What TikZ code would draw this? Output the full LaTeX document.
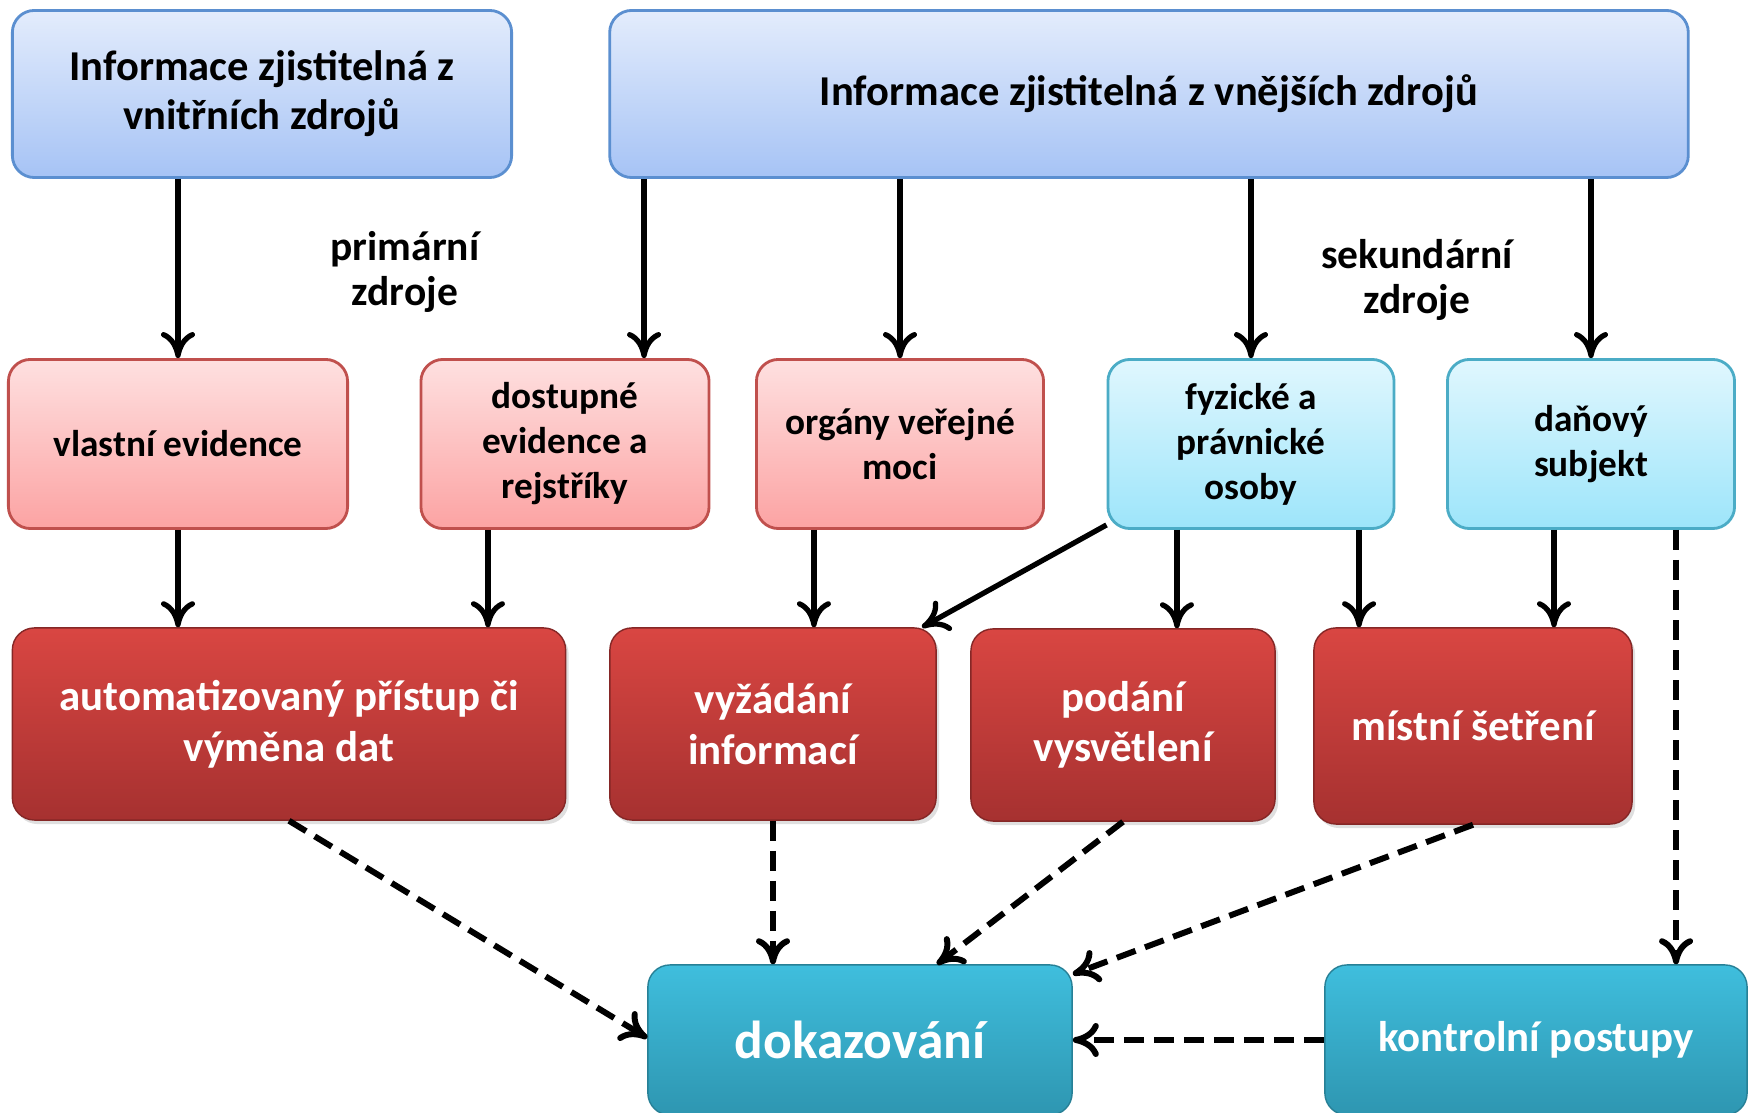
\documentclass[tikz,border=0pt]{standalone}
\usepackage{fontspec}
\setmainfont{Carlito}
\usetikzlibrary{arrows.meta,shadows}

\definecolor{blueTop}{HTML}{E3ECFC}
\definecolor{blueBot}{HTML}{A6C3F5}
\definecolor{blueLine}{HTML}{5B8FD0}
\definecolor{pinkTop}{HTML}{FEE0E0}
\definecolor{pinkBot}{HTML}{FCA3A3}
\definecolor{pinkLine}{HTML}{C0504D}
\definecolor{cyanTop}{HTML}{E0F7FE}
\definecolor{cyanBot}{HTML}{9DE5FA}
\definecolor{cyanLine}{HTML}{4BACC6}
\definecolor{redTop}{HTML}{D94642}
\definecolor{redBot}{HTML}{A63130}
\definecolor{tealTop}{HTML}{3FBEDD}
\definecolor{tealBot}{HTML}{2E96B1}

\tikzset{
  srcbox/.style={draw=blueLine,line width=0.8pt,top color=blueTop,bottom color=blueBot,
    font=\fontsize{12.1}{14}\selectfont\bfseries},
  pinkbox/.style={draw=pinkLine,line width=0.8pt,top color=pinkTop,bottom color=pinkBot,
    minimum height=1.69cm,font=\fontsize{10.6}{12.8}\selectfont\bfseries},
  cyanbox/.style={draw=cyanLine,line width=0.8pt,top color=cyanTop,bottom color=cyanBot,
    minimum height=1.69cm,font=\fontsize{10.6}{12.8}\selectfont\bfseries},
  redbox/.style={draw=redBot!80!black,line width=0.4pt,top color=redTop,bottom color=redBot,
    text=white,minimum height=1.92cm,font=\fontsize{12.2}{14.4}\selectfont\bfseries,
    drop shadow={opacity=0.25,shadow xshift=0.03cm,shadow yshift=-0.04cm}},
  tealbox/.style={draw=tealBot!85!black,line width=0.4pt,top color=tealTop,bottom color=tealBot,
    text=white,minimum height=1.50cm,font=\fontsize{12.2}{15}\selectfont\bfseries},
  lbl/.style={font=\fontsize{11.8}{13}\selectfont\bfseries},
  arr/.style={line width=1.5pt,-{To[length=2.6mm,width=3.4mm]}},
  darr/.style={arr,line width=1.7pt,dash pattern=on 0.2cm off 0.1cm}
}

\begin{document}
\begin{tikzpicture}[x=0.01cm,y=-0.01cm,every node/.style={align=center,rounded corners=0.22cm}]

  \useasboundingbox (0,0) rectangle (1756,1113);

  % sources
  \node[srcbox,minimum width=4.99cm,minimum height=1.67cm] (vnitr) at (262,94) {Informace zjistitelná z\\vnitřních zdrojů};
  \node[srcbox,minimum width=10.78cm,minimum height=1.67cm] (vnej) at (1149,94) {Informace zjistitelná z vnějších zdrojů};

  \node[lbl] (prim) at (405,272) {primární\\zdroje};
  \node[lbl] (sek) at (1417,280) {sekundární\\zdroje};

  % second row
  \node[pinkbox,minimum width=3.39cm] (vlast) at (178,444) {vlastní evidence};
  \node[pinkbox,minimum width=2.88cm] (dost) at (565,444) {dostupné\\evidence a\\rejstříky};
  \node[pinkbox,minimum width=2.87cm] (organ) at (900,444) {orgány veřejné\\moci};
  \node[cyanbox,minimum width=2.86cm] (fyz) at (1251,444) {fyzické a\\právnické\\osoby};
  \node[cyanbox,minimum width=2.87cm] (dan) at (1591,444) {daňový\\subjekt};

  % third row
  \node[redbox,minimum width=5.53cm] (auto) at (289,724) {automatizovaný přístup či\\výměna dat};
  \node[redbox,minimum width=3.26cm] (vyz) at (773,724) {vyžádání\\informací};
  \node[redbox,minimum width=3.04cm] (podani) at (1123,725) {podání\\vysvětlení};
  \node[redbox,minimum width=3.18cm,minimum height=1.96cm] (mist) at (1473,726) {místní šetření};

  % bottom row
  \node[tealbox,minimum width=4.24cm,font=\fontsize{15.2}{18}\selectfont\bfseries] (dok) at (860,1040) {dokazování};
  \node[tealbox,minimum width=4.22cm] (kontr) at (1536,1040) {kontrolní postupy};

  % arrow ends
  \coordinate (dostIn) at ([xshift=0.79cm]dost.north);
  \coordinate (dostOut) at ([xshift=-0.77cm]dost.south);
  \coordinate (organOut) at ([xshift=-0.86cm]organ.south);
  \coordinate (fyzOutA) at ([xshift=-0.74cm]fyz.south);
  \coordinate (fyzOutB) at ([xshift=1.08cm]fyz.south);
  \coordinate (danOutA) at ([xshift=-0.37cm]dan.south);
  \coordinate (danOutB) at ([xshift=0.85cm]dan.south);
  \coordinate (fyzCorner) at ([yshift=0.05cm]fyz.south west);
  \coordinate (vyzIn) at ([xshift=1.49cm]vyz.north);
  \coordinate (autoOut) at (auto.south);
  \coordinate (dokInA) at ([yshift=0.02cm]dok.west);
  \coordinate (dokInB) at ([xshift=0.77cm]dok.north);
  \coordinate (dokInC) at ([yshift=-0.1cm]dok.north east);

  \begin{scope}
    \draw[arr] (vnitr.south -| vlast.north) -- (vlast.north);
    \draw[arr] (vnej.south -| dostIn) -- (dostIn);
    \draw[arr] (vnej.south -| organ.north) -- (organ.north);
    \draw[arr] (vnej.south -| fyz.north) -- (fyz.north);
    \draw[arr] (vnej.south -| dan.north) -- (dan.north);

    \draw[arr] (vlast.south) -- (vlast.south |- auto.north);
    \draw[arr] (dostOut) -- (dostOut |- auto.north);
    \draw[arr] (organOut) -- (organOut |- vyz.north);
    \draw[arr] (fyzCorner) -- (vyzIn);
    \draw[arr] (fyzOutA) -- (fyzOutA |- podani.north);
    \draw[arr] (fyzOutB) -- (fyzOutB |- mist.north);
    \draw[arr] (danOutA) -- (danOutA |- mist.north);
    \draw[darr] (danOutB) -- (danOutB |- kontr.north);

    \draw[darr] (autoOut) -- (dokInA);
    \draw[darr] (vyz.south) -- (vyz.south |- dok.north);
    \draw[darr] (podani.south) -- (dokInB);
    \draw[darr] (mist.south) -- (dokInC);
    \draw[darr] (kontr.west) -- (kontr.west -| dok.east);
  \end{scope}

\end{tikzpicture}
\end{document}
